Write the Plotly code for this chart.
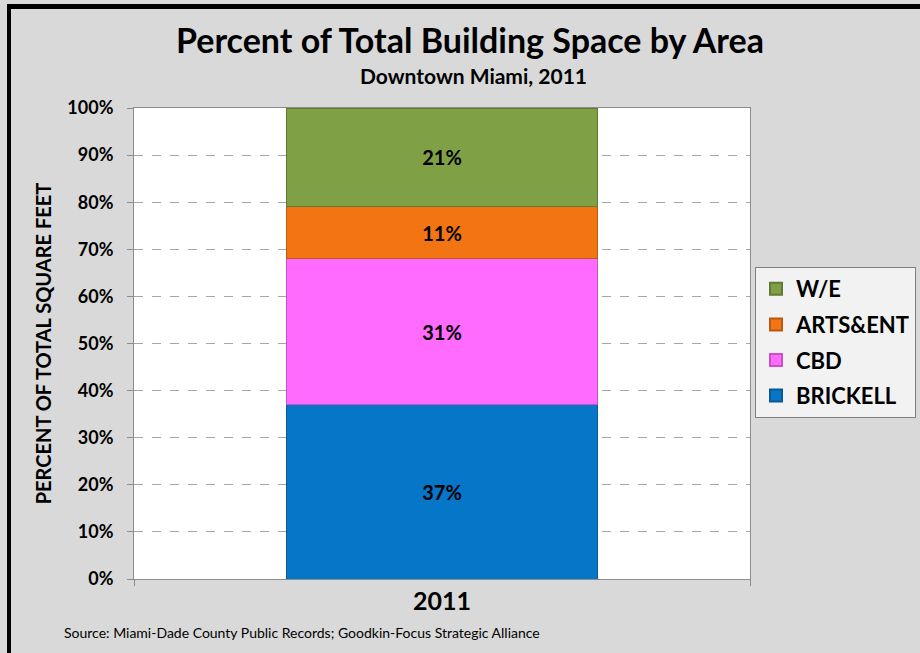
import plotly.graph_objects as go

categories = ["2011"]
series_names = ["BRICKELL", "CBD", "ARTS&ENT", "W/E"]
series_values = [[37], [31], [11], [21]]
series_colors = ["#0576C8", "#FF6BFF", "#F27413", "#80A045"]
line_colors = ["#0A5A96", "#C850C8", "#B85A10", "#5F7A33"]
y_ticks = [0, 10, 20, 30, 40, 50, 60, 70, 80, 90, 100]
y_tick_labels = [f"{v}%" for v in y_ticks]

FONT = "Lato"
W, H = 920, 653
L, R, T, B = 134, 170, 108, 74

fig = go.Figure()
n = len(series_names)
for i, (name, vals, col, lc) in enumerate(zip(series_names, series_values, series_colors, line_colors)):
    fig.add_trace(go.Bar(
        x=categories, y=vals, name=name, legendgroup=name, legendrank=n - i,
        marker=dict(color=col, line=dict(color=lc, width=1)),
        text=[f"{v}%" for v in vals], textposition="inside",
        insidetextanchor="middle",
        textfont=dict(family=FONT, size=20, color="black", weight="bold"),
        width=0.506,
    ))

pw = W - L - R
ph = H - T - B
def px(x):
    return (x - L) / pw
def py(y):
    return (H - B - y) / ph

fig.update_layout(
    width=W, height=H,
    margin=dict(l=L, r=R, t=T, b=B, autoexpand=False),
    barmode="stack",
    paper_bgcolor="#D9D9D9",
    plot_bgcolor="white",
    font=dict(family=FONT, color="black"),
    showlegend=True,
    legend=dict(
        x=px(755), y=py(267), xanchor="left", yanchor="top",
        bgcolor="#F2F2F2", bordercolor="#7F7F7F", borderwidth=1,
        traceorder="grouped",
        font=dict(family=FONT, size=22, color="black", weight="bold"),
        itemsizing="constant", tracegroupgap=4, itemwidth=30,
    ),
    xaxis=dict(
        range=[-0.5, 0.5], showgrid=False, showline=True, linecolor="#8C8C8C",
        mirror=True, ticks="outside", tickson="boundaries", ticklen=6,
        tickcolor="#8C8C8C",
        tickfont=dict(family=FONT, size=25, color="black", weight="bold"),
    ),
    yaxis=dict(
        range=[0, 100], tickvals=y_ticks, ticktext=y_tick_labels,
        showgrid=True, gridcolor="#A6A6A6", griddash="dash", gridwidth=1,
        showline=True, linecolor="#8C8C8C", mirror=True,
        ticks="outside", ticklen=6, tickcolor="#8C8C8C", ticklabelstandoff=10,
        tickfont=dict(family=FONT, size=18, color="black", weight="bold"),
        title=dict(text="PERCENT OF TOTAL SQUARE FEET", standoff=10,
                   font=dict(family=FONT, size=20, color="black", weight="bold")),
    ),
    annotations=[
        dict(text="Percent of Total Building Space by Area", xref="paper", yref="paper",
             x=px(470), y=py(39), xanchor="center", yanchor="middle", showarrow=False,
             font=dict(family=FONT, size=34, color="black", weight="bold")),
        dict(text="Downtown Miami, 2011", xref="paper", yref="paper",
             x=px(473), y=py(75), xanchor="center", yanchor="middle", showarrow=False,
             font=dict(family=FONT, size=21, color="black", weight="bold")),
        dict(text="Source: Miami-Dade County Public Records; Goodkin-Focus Strategic Alliance",
             xref="paper", yref="paper", x=px(62), y=py(632), xanchor="left",
             yanchor="middle", showarrow=False,
             font=dict(family=FONT, size=14, color="black")),
    ],
    shapes=[
        dict(type="rect", xref="paper", yref="paper", x0=px(7), x1=px(920), y0=py(4), y1=py(9),
             fillcolor="black", line=dict(width=0), layer="above"),
        dict(type="rect", xref="paper", yref="paper", x0=px(7), x1=px(11), y0=py(4), y1=py(653),
             fillcolor="black", line=dict(width=0), layer="above"),
    ],
)

fig.write_html("out.html")
